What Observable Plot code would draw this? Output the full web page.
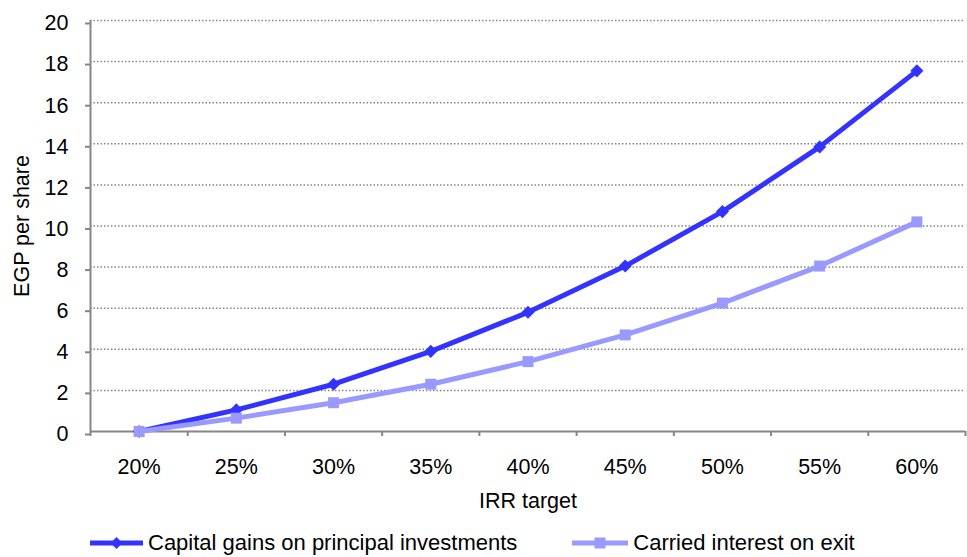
<!DOCTYPE html>
<html><head><meta charset="utf-8">
<script src="https://cdn.jsdelivr.net/npm/d3@7"></script>
<script src="https://cdn.jsdelivr.net/npm/@observablehq/plot@0.6"></script>
<style>
body{margin:0;background:#fff;font-family:"Liberation Sans",Arial,sans-serif;}
#legend{display:flex;align-items:center;height:37px;margin-top:4px;font-size:22px;color:#000;padding-left:90px;}
#legend .item{display:flex;align-items:center;}
#legend svg{display:block;margin-right:5px;}
</style></head><body><div id="chart"></div><div id="legend"></div>
<script>
const categories = ["20%","25%","30%","35%","40%","45%","50%","55%","60%"];
const capitalGains = [0, 1.05, 2.3, 3.9, 5.8, 8.05, 10.7, 13.85, 17.55];
const carriedInterest = [0, 0.65, 1.4, 2.3, 3.4, 4.7, 6.25, 8.05, 10.2];
const yTicks = [0, 2, 4, 6, 8, 10, 12, 14, 16, 18, 20];
const seriesNames = ["Capital gains on principal investments", "Carried interest on exit"];
const seriesColors = ["#3333ff", "#9999ff"];
const yLabel = "EGP per share";
const xLabel = "IRR target";

const rowsA = categories.map((c, i) => ({i, cat: c, value: capitalGains[i]}));
const rowsB = categories.map((c, i) => ({i, cat: c, value: carriedInterest[i]}));
const edges = d3.range(categories.length + 1).map(k => k - 0.5);
const grey = "#868686";
const font = '"Liberation Sans", Arial, sans-serif';

const chart = Plot.plot({
  width: 967, height: 520,
  marginTop: 20, marginLeft: 90, marginRight: 2, marginBottom: 89,
  style: {fontFamily: font, fontSize: "21.5px", color: "#000", background: "#fff"},
  x: {domain: [-0.5, categories.length - 0.5]},
  y: {domain: [0, 20]},
  marks: [
    Plot.ruleY(yTicks.filter(d => d > 0), {stroke: grey, strokeWidth: 1.5, strokeDasharray: "1.5,2"}),
    Plot.axisY({ticks: yTicks, tickSize: 5, tickPadding: 17, stroke: grey, strokeWidth: 2, fill: "#000", dy: 3,
      label: yLabel, labelArrow: "none", labelAnchor: "center", labelOffset: 77}),
    Plot.axisX({ticks: d3.range(categories.length), tickFormat: i => categories[i], tickSize: 0, tickPadding: 27,
      fill: "#000", label: xLabel, labelArrow: "none", labelAnchor: "center", labelOffset: 76}),
    Plot.axisX({ticks: edges, tickFormat: () => "", tickSize: 5, stroke: grey, strokeWidth: 2, label: null}),
    Plot.ruleX([-0.5], {stroke: grey, strokeWidth: 2}),
    Plot.ruleY([0], {stroke: grey, strokeWidth: 2}),
    Plot.line(rowsA, {x: "i", y: "value", stroke: seriesColors[0], strokeWidth: 5}),
    Plot.dot(rowsA, {x: "i", y: "value", symbol: d3.symbolDiamond2, r: 5.9, fill: seriesColors[0], stroke: null}),
    Plot.line(rowsB, {x: "i", y: "value", stroke: seriesColors[1], strokeWidth: 5}),
    Plot.dot(rowsB, {x: "i", y: "value", symbol: "square", r: 6.2, fill: seriesColors[1], stroke: null})
  ]
});
document.getElementById("chart").append(chart);

const legend = document.getElementById("legend");
const swatchW = [53, 56];
const gaps = [0, 55];
seriesNames.forEach((name, k) => {
  const item = document.createElement("div");
  item.className = "item";
  item.style.marginLeft = gaps[k] + "px";
  const w = swatchW[k];
  const sym = k === 0
    ? `<path d="M${w/2},2 L${w/2+6},8 L${w/2},14 L${w/2-6},8Z" fill="${seriesColors[k]}"/>`
    : `<rect x="${w/2-5.5}" y="2.5" width="11" height="11" fill="${seriesColors[k]}"/>`;
  item.innerHTML = `<svg width="${w}" height="16"><line x1="0" x2="${w}" y1="8" y2="8" stroke="${seriesColors[k]}" stroke-width="5" stroke-linecap="round"/>${sym}</svg><span>${name}</span>`;
  legend.append(item);
});
</script></body></html>
